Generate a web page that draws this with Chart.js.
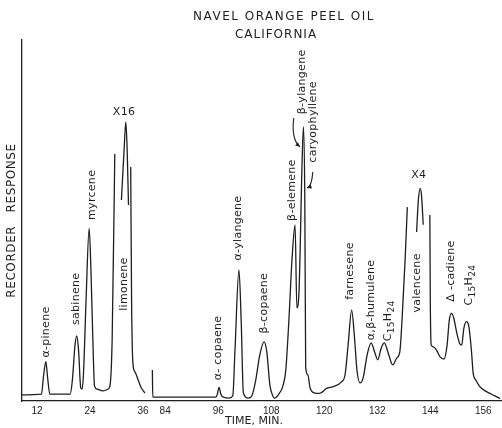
<!DOCTYPE html>
<html>
<head>
<meta charset="utf-8">
<script src="https://cdn.jsdelivr.net/npm/chart.js@4.4.1/dist/chart.umd.min.js"></script>
<style>
  html, body { margin: 0; padding: 0; background: #fff; }
  #wrap { width: 502px; height: 428px; position: relative; }
</style>
</head>
<body>
<div id="wrap"><canvas id="chart" width="502" height="428"></canvas></div>
<script>
// Monoterpene region of the run: retention time (min) and recorder response (% of full scale).
// A null response marks where the pen was lifted for an attenuation change.
const earlyTimes = [8.6, 13.0, 13.5, 14.0, 14.4, 14.9, 19.5, 20.0, 20.6, 21.0, 21.4, 21.9,
  22.2, 22.5, 23.1, 23.8, 24.2, 24.7, 25.0, 25.6, 26.9, 28.1, 28.5, 29.0,
  29.6, 29.7, 31.1, 31.7, 32.1, 32.4, 32.7, 32.9, 33.2, 33.4, 33.7, 34.2, 34.9, 35.5, 36.4];
const earlyResponse = [1.7, 1.9, 7.2, 10.9, 6.4, 1.9, 1.9, 5.8, 15.5, 18.0, 14.1, 3.6,
  3.3, 7.2, 28.0, 47.9, 36.3, 14.1, 4.2, 3.3, 2.8, 3.3, 4.2, 16.9,
  68.4, null, 55.7, 69.5, 77.3, 69.5, 54.3, null, 64.8, 28.0, 10.5, 8.0, 5.8, 3.9, 2.2];

// Sesquiterpene region of the run.
const lateTimes = [81.1, 81.2, 95.5, 95.8, 96.2, 96.6, 97.3, 98.4, 99.3, 99.8, 100.7, 101.2,
  101.7, 102.8, 103.6, 104.5, 105.4, 106.4, 107.0, 107.7, 108.2, 108.7, 109.6, 110.7,
  111.3, 112.0, 112.7, 113.4, 113.8, 114.3, 115.0, 115.3, 115.6, 115.8, 116.3, 116.8,
  117.9, 119.0, 120.5, 122.0, 123.9, 124.7, 125.4, 126.2, 126.8, 127.4, 128.1, 128.8,
  129.7, 130.6, 131.4, 132.1, 132.9, 133.6, 134.4, 135.5, 136.4, 137.1, 137.6, 138.3,
  138.8, 139.8, 140.9, 141.3, 141.7, 142.0, 142.4, 143.2, 143.9, 144.0, 144.2, 144.7,
  145.4, 146.2, 147.1, 147.8, 148.3, 148.8, 149.3, 150.0, 150.7, 151.1, 151.6, 152.2,
  152.7, 153.3, 153.7, 154.3, 155.2, 156.4, 157.5, 158.6, 159.8];
const lateResponse = [8.6, 1.1, 1.1, 1.9, 3.8, 1.9, 1.0, 0.8, 1.4, 14.1, 36.3, 22.4,
  2.2, 0.8, 1.4, 5.8, 12.7, 16.4, 13.6, 4.4, 1.9, 0.8, 1.7, 4.4,
  8.6, 22.4, 39.1, 48.8, 25.8, 30.7, 66.8, 75.9, 55.7, 9.4, 7.2, 3.6,
  2.2, 2.1, 3.5, 4.0, 5.3, 7.2, 15.5, 25.2, 18.3, 8.6, 5.0, 6.4,
  12.7, 16.1, 13.6, 11.4, 14.7, 16.1, 13.6, 10.0, 11.9, 13.6, 22.4, 39.1,
  53.7, null, 46.8, 55.7, 58.9, 57.1, 48.8, null, 51.5, 28.0, 15.5, 15.0,
  14.1, 12.2, 11.6, 15.5, 22.4, 24.3, 23.0, 18.8, 15.8, 15.5, 20.2, 22.0,
  20.8, 14.1, 7.7, 5.8, 4.0, 2.8, 2.1, 1.4, 0.7];

// Time axis tick labels (minutes)
const tickMinutes = [12, 24, 36, 84, 96, 108, 120, 132, 144, 156];

// The time axis is broken between 36 and 84 min; the second part is shifted left.
const BREAK_AT = 60;   // minutes
const SHIFT = 43;      // minutes removed by the break
const toAxis = t => (t <= BREAK_AT ? t : t - SHIFT);
const fromAxis = u => (u <= BREAK_AT - SHIFT / 2 ? u : u + SHIFT);

const INK = '#1e1e1e';

// Peak names, anchored at (time, response); parts = pieces with subscripts
const peakLabels = [
  { text: 'α-pinene', t: 14.0, v: 19.1 },
  { text: 'sabinene', t: 20.8, v: 28.3 },
  { text: 'myrcene', t: 24.4, v: 57.1 },
  { text: 'limonene', t: 31.7, v: 32.4 },
  { text: 'α- copaene', t: 96.0, v: 14.7 },
  { text: 'α-ylangene', t: 100.5, v: 47.9 },
  { text: 'β-copaene', t: 106.4, v: 27.1 },
  { text: 'β-elemene', t: 112.7, v: 58.4 },
  { text: 'β-ylangene', t: 115.0, v: 88.4 },
  { text: 'caryophyllene', t: 117.4, v: 77.3 },
  { text: 'farnesene', t: 125.8, v: 36.0 },
  { text: 'α,β-humulene', t: 130.6, v: 28.0 },
  { parts: [['C', 0], ['15', 1], ['H', 0], ['24', 1]], t: 134.4, v: 22.2 },
  { text: 'valencene', t: 141.0, v: 32.7 },
  { text: 'Δ -cadiene', t: 148.7, v: 36.0 },
  { parts: [['C', 0], ['15', 1], ['H', 0], ['24', 1]], t: 152.7, v: 32.1 }
];
// Attenuation marks
const attenLabels = [
  { text: 'X16', t: 31.7, v: 80.1 },
  { text: 'X4', t: 141.4, v: 62.6 }
];
// Pointer arrows: start, control, end (time, response)
const arrows = [
  { from: [113.1, 78.4], ctrl: [112.5, 72.5], to: [114.5, 70.4] },
  { from: [117.4, 63.4], ctrl: [117.2, 59.5], to: [116.1, 59.0] }
];

const toPoints = (ts, vs) => ts.map((t, i) => ({ x: toAxis(t), y: vs[i] }));

const annotate = {
  id: 'annotate',
  afterDraw(chart) {
    const { ctx, scales: { x, y } } = chart;
    const px = t => x.getPixelForValue(toAxis(t));
    const py = v => y.getPixelForValue(v);
    ctx.save();
    ctx.fillStyle = INK;
    ctx.strokeStyle = INK;

    // Heading
    ctx.textAlign = 'center';
    ctx.textBaseline = 'middle';
    ctx.font = '12px "DejaVu Sans"';
    ctx.letterSpacing = '1.5px';
    ctx.fillText('NAVEL ORANGE PEEL OIL', 284, 17);
    ctx.letterSpacing = '1px';
    ctx.fillText('CALIFORNIA', 276, 35);

    // Axis titles
    ctx.font = '11px "DejaVu Sans"';
    ctx.letterSpacing = '0px';
    ctx.fillText('TIME, MIN.', 254, 421);
    ctx.save();
    ctx.translate(12, (chart.chartArea.top + chart.chartArea.bottom) / 2);
    ctx.rotate(-Math.PI / 2);
    ctx.font = '12px "DejaVu Sans"';
    ctx.letterSpacing = '0.6px';
    ctx.fillText('RECORDER   RESPONSE', 0, 0);
    ctx.restore();

    // Peak names, written upward
    ctx.font = '11px "DejaVu Sans"';
    ctx.letterSpacing = '0.3px';
    peakLabels.forEach(l => {
      ctx.save();
      ctx.translate(px(l.t), py(l.v));
      ctx.rotate(-Math.PI / 2);
      if (l.text) {
        ctx.textAlign = 'center';
        ctx.fillText(l.text, 0, 0);
      } else {
        const fonts = ['11px "DejaVu Sans"', '9px "DejaVu Sans"'];
        let w = 0;
        l.parts.forEach(([s, sub]) => { ctx.font = fonts[sub]; w += ctx.measureText(s).width; });
        let cx = -w / 2;
        ctx.textAlign = 'left';
        l.parts.forEach(([s, sub]) => {
          ctx.font = fonts[sub];
          ctx.fillText(s, cx, sub ? 3.5 : 0);
          cx += ctx.measureText(s).width;
        });
      }
      ctx.restore();
    });

    // Attenuation marks
    ctx.textAlign = 'center';
    ctx.font = '11px "DejaVu Sans"';
    ctx.letterSpacing = '0.3px';
    attenLabels.forEach(l => ctx.fillText(l.text, px(l.t), py(l.v)));

    // Arrows
    ctx.lineWidth = 1.1;
    arrows.forEach(a => {
      const [x0, y0] = [px(a.from[0]), py(a.from[1])];
      const [xc, yc] = [px(a.ctrl[0]), py(a.ctrl[1])];
      const [x1, y1] = [px(a.to[0]), py(a.to[1])];
      ctx.beginPath();
      ctx.moveTo(x0, y0);
      ctx.quadraticCurveTo(xc, yc, x1, y1);
      ctx.stroke();
      const ang = Math.atan2(y1 - yc, x1 - xc);
      ctx.beginPath();
      ctx.moveTo(x1, y1);
      ctx.lineTo(x1 - 5 * Math.cos(ang - 0.45), y1 - 5 * Math.sin(ang - 0.45));
      ctx.lineTo(x1 - 5 * Math.cos(ang + 0.45), y1 - 5 * Math.sin(ang + 0.45));
      ctx.closePath();
      ctx.fill();
    });
    ctx.restore();
  }
};

const lineStyle = {
  borderColor: INK,
  borderWidth: 1.3,
  pointRadius: 0,
  fill: false,
  spanGaps: false,
  cubicInterpolationMode: 'monotone'
};

new Chart(document.getElementById('chart'), {
  type: 'line',
  data: {
    datasets: [
      { ...lineStyle, label: 'monoterpenes', data: toPoints(earlyTimes, earlyResponse) },
      { ...lineStyle, label: 'sesquiterpenes', data: toPoints(lateTimes, lateResponse) }
    ]
  },
  options: {
    responsive: false,
    animation: false,
    events: [],
    layout: { padding: { left: 0, right: 1, top: 40, bottom: 0 } },
    plugins: { legend: { display: false }, tooltip: { enabled: false }, title: { display: false } },
    scales: {
      x: {
        type: 'linear',
        min: 8.6,
        max: 117.0,
        grid: { display: false, drawTicks: false },
        border: { display: true, color: INK, width: 1.3 },
        afterBuildTicks: s => { s.ticks = tickMinutes.map(m => ({ value: toAxis(m) })); },
        afterFit: s => { s.height = 27; },
        ticks: {
          autoSkip: false,
          maxRotation: 0,
          padding: 4,
          color: INK,
          font: { family: 'Liberation Sans', size: 10 },
          callback: v => String(Math.round(fromAxis(v)))
        }
      },
      y: {
        min: 0,
        max: 100,
        grid: { display: false, drawTicks: false },
        border: { display: true, color: INK, width: 1.3 },
        ticks: { display: false },
        afterFit: s => { s.width = 22; }
      }
    }
  },
  plugins: [annotate]
});
</script>
</body>
</html>
